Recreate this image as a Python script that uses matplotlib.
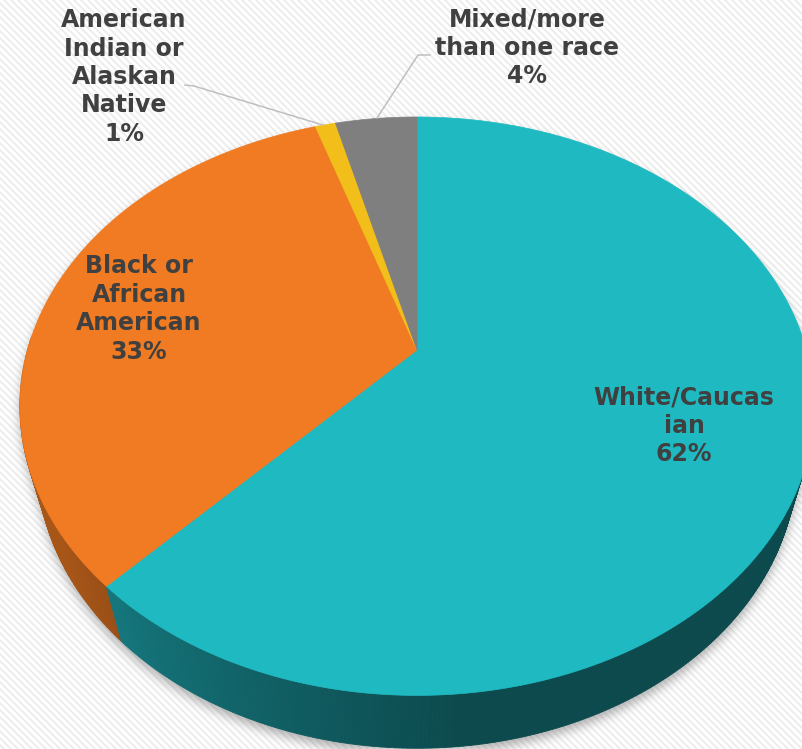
import numpy as np
import matplotlib
matplotlib.use("Agg")
import matplotlib.pyplot as plt
from matplotlib.patches import Polygon
from matplotlib.collections import LineCollection
from matplotlib.path import Path

categories = ["White/Caucas\nian", "Black or\nAfrican\nAmerican",
              "American\nIndian or\nAlaskan\nNative", "Mixed/more\nthan one race"]
shares = [62, 33, 1, 4]
colors = ["#1fb9c2", "#f07b22", "#f2be1a", "#7f7f7f"]

# label anchors (pixel coords) and leader lines for the two outside labels
label_pos = [(684, 426), (139, 309), (124, 77), (527, 48)]
leaders = {2: [(185, 85), (194, 86), (323, 125)],
           3: [(430, 55), (418, 55), (377, 118)]}

W, H = 803, 749
CX, CY = 417, 350      # pie centre on screen
K = 389.5              # pixels per unit radius
ELEV = np.radians(45.6)
DIST = 3.6             # camera distance (perspective)
DEPTH = 0.22           # pie thickness


def project(t, z):
    x = np.cos(t)
    y = np.sin(t)
    Y = y * np.sin(ELEV) + z * np.cos(ELEV)
    d = -y * np.cos(ELEV) + z * np.sin(ELEV)
    s = DIST / (DIST - d)
    return CX + K * x * s, CY - K * Y * s


def shade(t):
    deg = np.degrees(t) % 360
    if deg < 180:
        deg += 360 if deg < 90 else 0
    return 0.40 + 0.30 * np.clip((275 - deg) / 60, 0, 1)


def blur(img, sigma):
    r = int(3 * sigma)
    xs = np.arange(-r, r + 1)
    k = np.exp(-xs**2 / (2 * sigma**2))
    k /= k.sum()
    img = np.apply_along_axis(lambda m: np.convolve(m, k, mode="same"), 0, img)
    img = np.apply_along_axis(lambda m: np.convolve(m, k, mode="same"), 1, img)
    return img


fig = plt.figure(figsize=(W / 100, H / 100), dpi=100)
ax = fig.add_axes([0, 0, 1, 1])
ax.set_xlim(0, W)
ax.set_ylim(H, 0)
ax.axis("off")

# faint diagonal stripes in the background
stripes = [[(-10, c - 10), (W + 10, c + W + 10)] for c in range(-W - 20, H + 20, 7)]
ax.add_collection(LineCollection(stripes, colors="#ececec", linewidths=1.3, zorder=0))

# slice boundaries, clockwise from 12 o'clock
cum = np.concatenate([[0], np.cumsum(shares)]) / np.sum(shares)
bounds = np.pi / 2 - 2 * np.pi * cum

# drop shadow from the pie silhouette
tt = np.linspace(0, 2 * np.pi, 720)
tx, ty = project(tt, 0)
bx, by = project(tt, -DEPTH)
pts = np.column_stack([np.concatenate([tx, bx]), np.concatenate([ty, by])])
pts = pts[np.lexsort((pts[:, 1], pts[:, 0]))]


def cross(o, a, b):
    return (a[0] - o[0]) * (b[1] - o[1]) - (a[1] - o[1]) * (b[0] - o[0])


lower, upper = [], []
for p in pts:
    while len(lower) >= 2 and cross(lower[-2], lower[-1], p) <= 0:
        lower.pop()
    lower.append(tuple(p))
for p in pts[::-1]:
    while len(upper) >= 2 and cross(upper[-2], upper[-1], p) <= 0:
        upper.pop()
    upper.append(tuple(p))
hull = np.array(lower[:-1] + upper[:-1])
gx, gy = np.meshgrid(np.arange(W) + 0.5, np.arange(H) + 0.5)
mask = Path(hull + [0, 6]).contains_points(
    np.column_stack([gx.ravel(), gy.ravel()])).reshape(H, W).astype(float)
mask = blur(mask, 5)
shadow = np.zeros((H, W, 4))
shadow[..., :3] = 0.45
shadow[..., 3] = 0.55 * mask
ax.imshow(shadow, extent=(0, W, H, 0), zorder=1, interpolation="bilinear")

# side wall, drawn back to front
quads = []
for i in range(len(shares)):
    a0, a1 = bounds[i], bounds[i + 1]
    n = max(int(abs(a1 - a0) / np.radians(0.5)), 2)
    ts = np.linspace(a0, a1, n + 1)
    base = np.array(matplotlib.colors.to_rgb(colors[i]))
    for j in range(n):
        ta, tb = ts[j], ts[j + 1]
        tm = 0.5 * (ta + tb)
        if np.sin(tm) > 0.05:
            continue
        xa, ya = project(ta, 0)
        xb, yb = project(tb, 0)
        xc, yc = project(tb, -DEPTH)
        xd, yd = project(ta, -DEPTH)
        quads.append((-np.sin(tm), [(xa, ya), (xb, yb), (xc, yc), (xd, yd)],
                      base * shade(tm)))
quads.sort(key=lambda q: q[0])
for _, poly, col in quads:
    ax.add_patch(Polygon(poly, closed=True, facecolor=col, edgecolor=col,
                         linewidth=0.6, zorder=2))

# top face
for i in range(len(shares)):
    ts = np.linspace(bounds[i], bounds[i + 1], 200)
    ex, ey = project(ts, 0)
    poly = np.column_stack([np.concatenate([[CX], ex]), np.concatenate([[CY], ey])])
    ax.add_patch(Polygon(poly, closed=True, facecolor=colors[i], edgecolor=colors[i],
                         linewidth=0.5, zorder=3))

# leader lines
for i, path in leaders.items():
    xs, ys = zip(*path)
    ax.plot(xs, ys, color="#bfbfbf", linewidth=1.1, zorder=4)

# data labels
for name, v, (lx, ly) in zip(categories, shares, label_pos):
    ax.text(lx, ly, f"{name}\n{v:.0f}%", ha="center", va="center",
            fontsize=17, fontweight="bold", color="#404040",
            linespacing=1.23, family="DejaVu Sans", zorder=5)

fig.savefig("out.png", dpi=100)
